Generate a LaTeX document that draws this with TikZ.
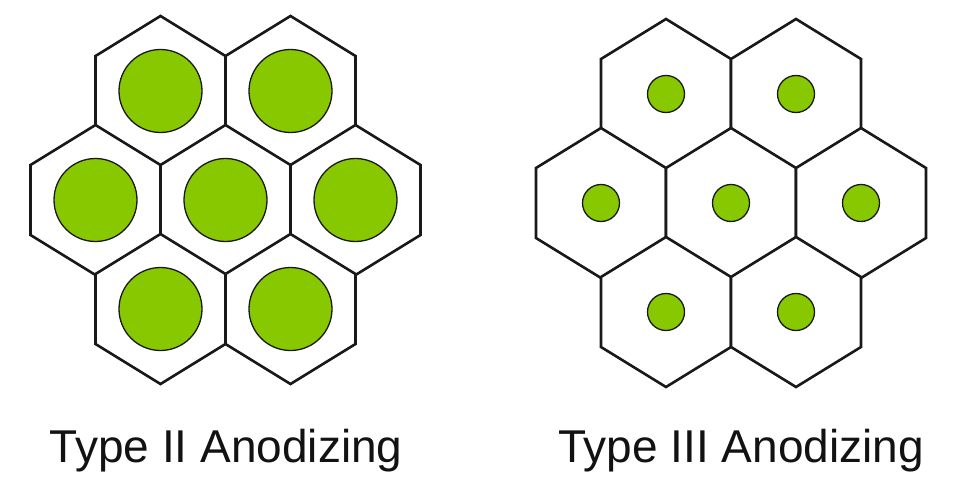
\documentclass[tikz,border=0pt]{standalone}
\usepackage{fontspec}
\setmainfont{Liberation Sans}
\usetikzlibrary{positioning}

\begin{document}
\begin{tikzpicture}[
  x=1pt,y=-1pt,
  cell/.style={draw=black!90,line width=2.6pt,line join=miter,fill=white},
  pore/.style={circle,draw=black!90,line width=1.3pt,fill=poregreen,inner sep=0pt},
  bigpore/.style={pore,minimum size=83pt},
  smallpore/.style={pore,minimum size=37pt},
  caption/.style={font=\fontsize{46}{55}\selectfont,text=black!93,anchor=base,inner sep=0pt}
]
\definecolor{poregreen}{RGB}{136,200,0}
\useasboundingbox (0,0) rectangle (953,500);

% Type II cells
\foreach \cx/\cy/\n in {160.5/91/a,290.5/91/b,95.5/200/c,225.5/200/d,355.5/200/e,160.5/309/f,290.5/309/g}{
  \draw[cell] (\cx,\cy-75) -- (\cx+65,\cy-35) -- (\cx+65,\cy+35) -- (\cx,\cy+75)
    -- (\cx-65,\cy+35) -- (\cx-65,\cy-35) -- cycle;
  \node[bigpore] (big\n) at (\cx,\cy) {};
}

% Type III cells
\foreach \cx/\cy/\n in {666/94/a,796/94/b,601/203/c,731/203/d,861/203/e,666/312/f,796/312/g}{
  \draw[cell] (\cx,\cy-75) -- (\cx+65,\cy-35) -- (\cx+65,\cy+35) -- (\cx,\cy+75)
    -- (\cx-65,\cy+35) -- (\cx-65,\cy-35) -- cycle;
  \node[smallpore] (small\n) at (\cx,\cy) {};
}

% Captions
\node[caption] (typetwo) at (226,462) {Type II Anodizing};
\node[caption] (typethree) at (741,462) {Type III Anodizing};
\end{tikzpicture}
\end{document}
